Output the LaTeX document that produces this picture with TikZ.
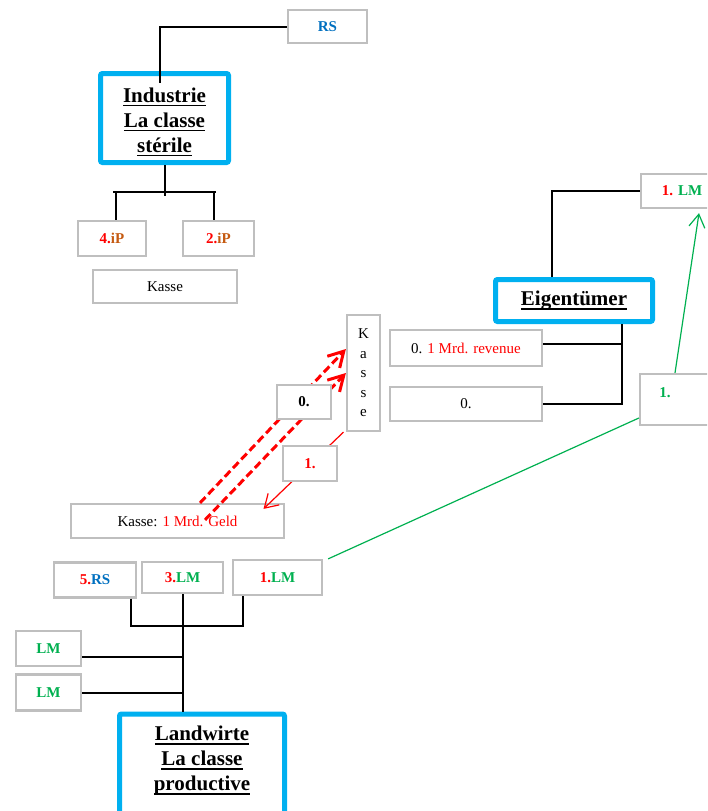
\documentclass[tikz,border=0pt]{standalone}
\usepackage{fontspec}
\setmainfont{Liberation Serif}
\usetikzlibrary{arrows.meta,calc}
\definecolor{boxgray}{HTML}{BFBFBF}
\definecolor{skyblue}{HTML}{00B0F0}
\definecolor{rsblue}{HTML}{0070C0}
\definecolor{lmgreen}{HTML}{00B050}
\definecolor{ipbrown}{HTML}{C55A11}
% underlined heading word with a heavier rule
\newcommand\ultext[1]{\leavevmode\setbox0=\hbox{#1}\rlap{\rule[-4.4pt]{\wd0}{1.8pt}}\box0}
\begin{document}
\begin{tikzpicture}[x=1pt,y=-1pt,
  gbox/.style={draw=boxgray, line width=2.2pt, fill=white, inner sep=0pt},
  cframe/.style={draw=skyblue, line width=5pt, rounded corners=2pt, fill=white, inner sep=0pt},
  ttl/.style={inner sep=0pt, align=center, font=\fontsize{21}{25}\selectfont\bfseries},
  lbl/.style={font=\fontsize{15}{18}\selectfont\bfseries},
  txt/.style={font=\fontsize{15}{18}\selectfont},
  link/.style={line width=2pt, black},
  dasharrow/.style={red, line width=3pt, dash pattern=on 8pt off 4pt,
    -{Straight Barb[length=15pt,width=17pt]}},
  redarrow/.style={red, line width=1.2pt, -{Straight Barb[length=13pt,width=16pt]}},
  greenline/.style={lmgreen, line width=1.2pt},
  greenarrow/.style={lmgreen, line width=1.2pt, -{Straight Barb[length=13pt,width=16pt]}}
]
\useasboundingbox (0,0) rectangle (707,811);
\clip (0,0) rectangle (707,811);

% ---- Industrie (classe stérile)
\node[gbox,lbl,text=rsblue,minimum width=79,minimum height=33] (rs) at (327.5,26.5) {RS};
\node[cframe,minimum width=128,minimum height=89] (ind) at (164.5,118) {};
\node[ttl] (indtext) at (164.5,122)
  {\ultext{Industrie}\\\ultext{La classe}\\\ultext{stérile}};
\node[gbox,lbl,minimum width=68,minimum height=35] (ip4) at (112,238.5)
  {\textcolor{red}{4.}\textcolor{ipbrown}{iP}};
\node[gbox,lbl,minimum width=71,minimum height=35] (ip2) at (218.5,238.5)
  {\textcolor{red}{2.}\textcolor{ipbrown}{iP}};
\node[gbox,txt,minimum width=144,minimum height=33] (kasseI) at (165,286.5) {Kasse};

\draw[link] (rs.west) -| ([xshift=-4.5,yshift=-12]ind.north);
\draw[link] (ind.south) -- ++(0,31);
\coordinate (ibarL) at (113,192);
\coordinate (ibarR) at (216,192);
\draw[link] (ibarL) -- (ibarR);
\draw[link] ([xshift=4]ip4.north) -- ([xshift=4]ip4.north |- ibarL);
\draw[link] ([xshift=-4.5]ip2.north) -- ([xshift=-4.5]ip2.north |- ibarR);

% ---- money flow between the cash boxes
\node[gbox,txt,align=center,minimum width=33,minimum height=116,
  font=\fontsize{15}{19.5}\selectfont] (kv) at (363.5,373) {K\\a\\s\\s\\e};
\node[gbox,txt,minimum width=213,minimum height=34] (kg) at (177.5,521)
  {Kasse: \textcolor{red}{1 Mrd. Geld}};

\draw[dasharrow] ([xshift=22.5]kg.north) -- ([yshift=24]kv.west);
\draw[dasharrow] ([xshift=27.5,yshift=-17]kg.north) -- (kv.west);
\draw[redarrow] ([xshift=-20]kv.south) -- ([xshift=86,yshift=-6]kg.north);

\node[gbox,lbl,minimum width=54,minimum height=34] (zero1) at (304,402) {0.};
\node[gbox,lbl,text=red,minimum width=54,minimum height=35] (one1) at (310,463.5) {1.};

% ---- Eigentümer
\node[gbox,txt,minimum width=152,minimum height=36] (rev) at (466,348)
  {0. \textcolor{red}{1 Mrd. revenue}};
\node[gbox,txt,minimum width=152,minimum height=34] (zero2) at (466,404) {0.};
\node[cframe,ttl,minimum width=157,minimum height=42] (eig) at (574,300.5)
  {\raisebox{-3pt}{\ultext{Eigentümer}}};
\node[gbox,lbl,minimum width=82,minimum height=34] (lmtop) at (682,191)
  {\textcolor{red}{1.} \textcolor{lmgreen}{LM}};
\node[gbox,minimum width=83,minimum height=51] (g1) at (681.5,399.5) {};
\node[lbl,text=lmgreen,inner sep=0pt] (g1text) at (665,393) {1.};

\draw[link] ([xshift=-22]eig.north) |- (lmtop.west);
\coordinate (ejoin) at ([xshift=48]eig.south);
\draw[link] (ejoin) |- (zero2.east);
\draw[link] ([yshift=4]rev.east) -- ([yshift=4]rev.east -| ejoin);
\draw[greenarrow] ([xshift=-6.5]g1.north) -- ([xshift=17,yshift=-4]lmtop.south);

% ---- Landwirte (classe productive)
\node[gbox,lbl,minimum width=82,minimum height=35] (rs5) at (95,580)
  {\textcolor{red}{5.}\textcolor{rsblue}{RS}};
\node[gbox,lbl,minimum width=81,minimum height=31] (lm3) at (182.5,577.5)
  {\textcolor{red}{3.}\textcolor{lmgreen}{LM}};
\node[gbox,lbl,minimum width=89,minimum height=35] (lm1b) at (277.5,577.5)
  {\textcolor{red}{1.}\textcolor{lmgreen}{LM}};
\node[gbox,lbl,text=lmgreen,minimum width=65,minimum height=35] (lma) at (48.5,648.5) {LM};
\node[gbox,lbl,text=lmgreen,minimum width=65,minimum height=36] (lmb) at (48.5,692.5) {LM};
\node[cframe,minimum width=165,minimum height=140,anchor=north] (lw) at (202,711.5) {};
\node[ttl,anchor=north] (lwtext) at (202,726)
  {\ultext{Landwirte}\\\ultext{La classe}\\\ultext{productive}};

\coordinate (lwbar) at (183,626);
\draw[link] (lm3.south) -- (lm3.south |- lw.north);
\draw[link] ([xshift=36]rs5.south) |- (lwbar);
\draw[link] ([xshift=-34.5]lm1b.south) |- (lwbar);
\draw[link] ([yshift=-8]lma.east) -- ([yshift=-8]lma.east -| lm3.south);
\draw[link] (lmb.east) -- (lmb.east -| lm3.south);

\draw[greenline] ([xshift=5]lm1b.north east) -- ([yshift=-18.5]g1.west);
\end{tikzpicture}
\end{document}
